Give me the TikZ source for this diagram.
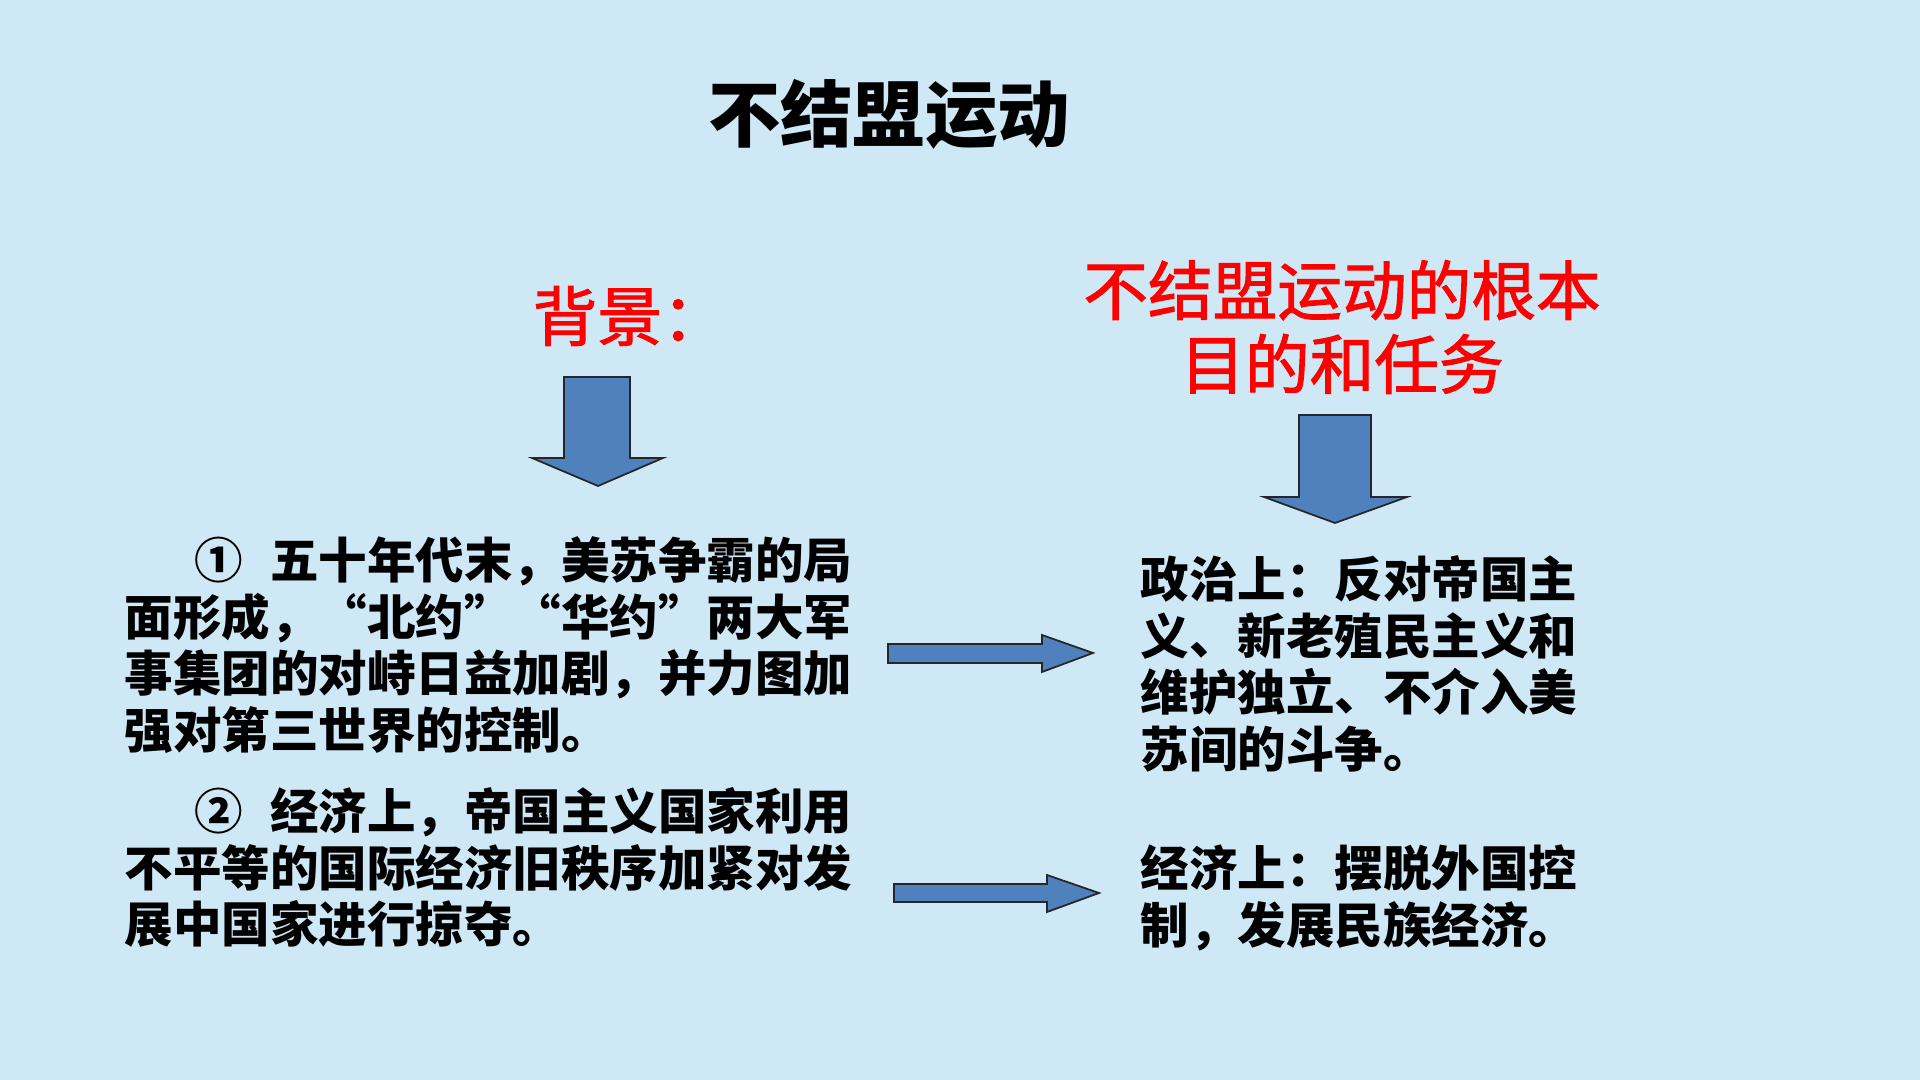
\documentclass[tikz,border=0pt]{standalone}
\usepackage{fontspec}
\newfontfamily\cjk{Noto Sans CJK SC}
\newfontfamily\cjkheavy[FakeBold=1.6]{Noto Sans CJK SC}
\definecolor{bgblue}{RGB}{207,232,246}
\definecolor{arrowblue}{RGB}{79,129,189}
\begin{document}
\begin{tikzpicture}[
    body/.style={anchor=north west, inner sep=0pt, align=left,
        font=\cjk\bfseries\fontsize{13.8pt}{16.1pt}\selectfont},
    heading/.style={inner sep=0pt, text=red, align=center,
        font=\cjkheavy\fontsize{18.4pt}{21pt}\selectfont},
    blockarrow/.style={fill=arrowblue, draw=black!85, line width=0.5pt, line join=miter}
]
    % Background
    \fill[bgblue] (0,0) rectangle (19.2,10.8);
    \useasboundingbox (0,0) rectangle (19.2,10.8);
    % Title
    \node[inner sep=0pt, font=\cjk\bfseries\fontsize{20.6pt}{24pt}\selectfont] (title) at (8.89,9.66) {不结盟运动};
    % Red headings
    \node[heading, anchor=west] (bghead) at (5.32,7.64) {背景：};
    \node[heading] (aimhead) at (13.42,7.53) {不结盟运动的根本\\目的和任务};
    % Down arrows
    \draw[blockarrow] (5.64,7.03) -- (6.30,7.03) -- (6.30,6.22) -- (6.63,6.22)
        -- (5.98,5.94) -- (5.32,6.22) -- (5.64,6.22) -- cycle;
    \draw[blockarrow] (12.99,6.65) -- (13.71,6.65) -- (13.71,5.83) -- (14.07,5.83)
        -- (13.35,5.57) -- (12.64,5.83) -- (12.99,5.83) -- cycle;
    % Left-hand text
    \node[body] (bgone) at (1.24,5.44) {\hspace*{0.70cm}①\hspace*{0.27cm}五十年代末，美苏争霸的局\\面形成，“北约”“华约”两大军\\事集团的对峙日益加剧，并力图加\\强对第三世界的控制。};
    \node[body] (bgtwo) at (1.24,2.93) {\hspace*{0.70cm}②\hspace*{0.27cm}经济上，帝国主义国家利用\\不平等的国际经济旧秩序加紧对发\\展中国家进行掠夺。};
    % Right arrows
    \draw[blockarrow] (8.88,4.36) -- (10.42,4.36) -- (10.42,4.45) -- (10.93,4.27)
        -- (10.42,4.08) -- (10.42,4.17) -- (8.88,4.17) -- cycle;
    \draw[blockarrow] (8.94,1.96) -- (10.47,1.96) -- (10.47,2.05) -- (10.99,1.87)
        -- (10.47,1.68) -- (10.47,1.78) -- (8.94,1.78) -- cycle;
    % Right-hand text
    \node[body] (polit) at (11.40,5.25) {政治上：反对帝国主\\义、新老殖民主义和\\维护独立、不介入美\\苏间的斗争。};
    \node[body] (econ) at (11.40,2.36) {经济上：摆脱外国控\\制，发展民族经济。};
\end{tikzpicture}
\end{document}
